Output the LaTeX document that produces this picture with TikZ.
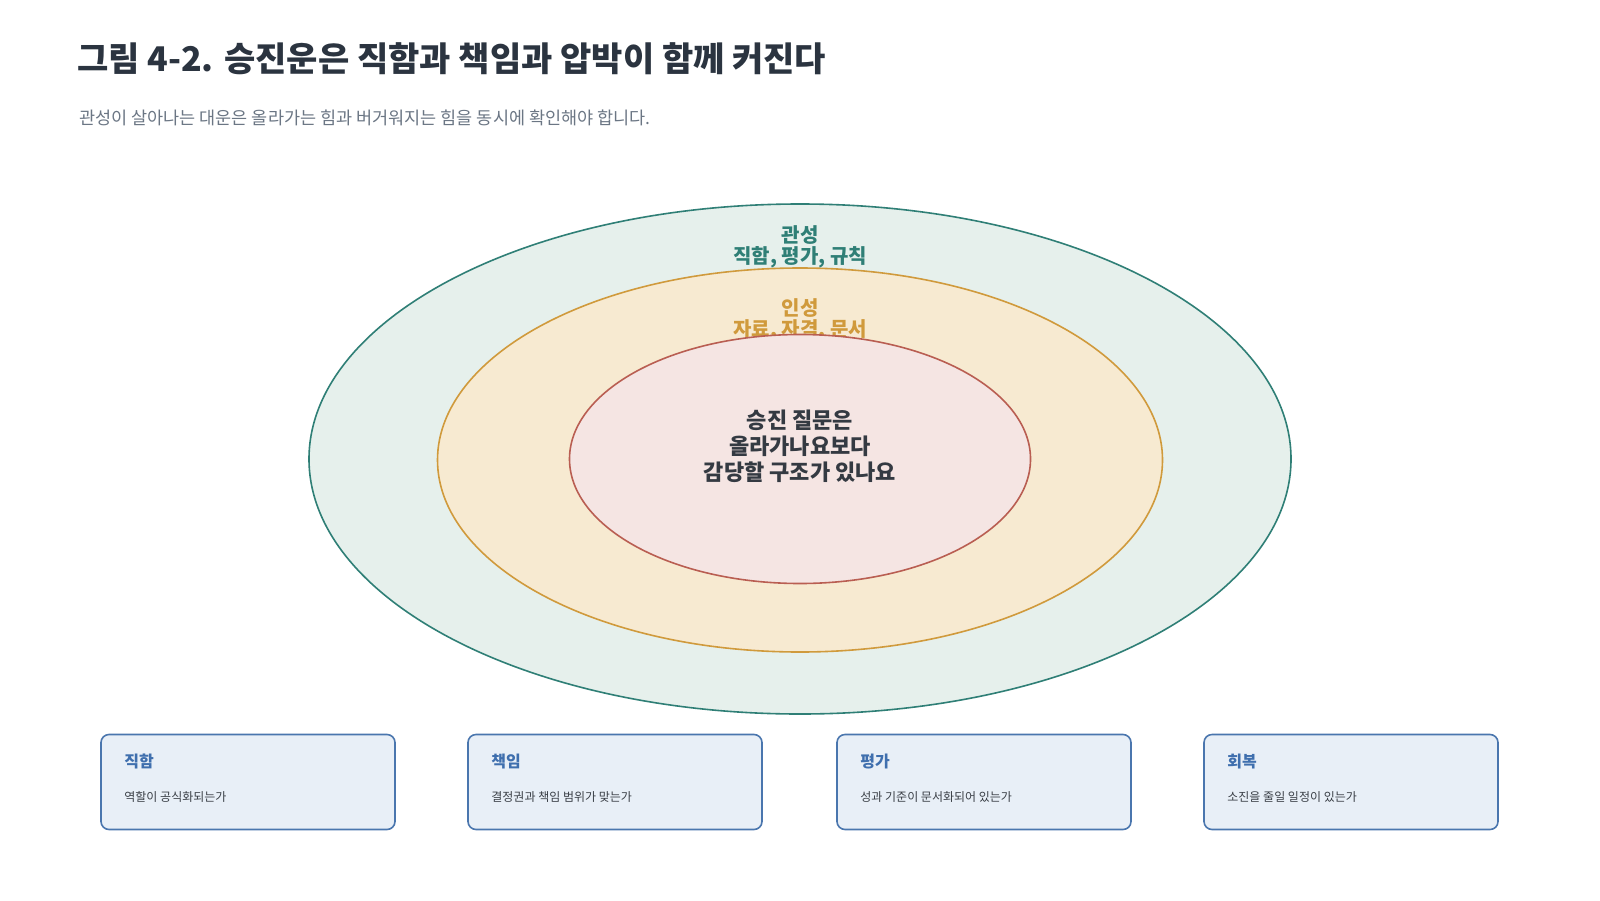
\documentclass[tikz,border=0pt]{standalone}
\usepackage{fontspec}
\setmainfont{Noto Sans CJK KR}
\usetikzlibrary{shapes.geometric}
\definecolor{titlec}{HTML}{2B3440}
\definecolor{subc}{HTML}{6B7684}
\definecolor{outerfill}{HTML}{E6F0EC}
\definecolor{outerdraw}{HTML}{2F7F76}
\definecolor{midfill}{HTML}{F7EAD1}
\definecolor{middraw}{HTML}{D09A3C}
\definecolor{innfill}{HTML}{F5E5E3}
\definecolor{inndraw}{HTML}{B95E52}
\definecolor{boxfill}{HTML}{E8EFF7}
\definecolor{boxdraw}{HTML}{4A76AE}
\definecolor{boxtitle}{HTML}{3F6FAE}
\definecolor{boxtext}{HTML}{3A3F46}
\definecolor{centertext}{HTML}{343A42}
\tikzset{
  ring/.style={ellipse, line width=1.6pt, inner sep=0pt},
  card/.style={draw=boxdraw, fill=boxfill, line width=1.6pt, rounded corners=8pt,
    minimum width=294pt, minimum height=95pt, inner sep=0pt},
  cardtitle/.style={anchor=west, text=boxtitle, font=\fontsize{16}{19}\selectfont\bfseries, inner sep=0pt},
  carddesc/.style={anchor=west, text=boxtext, font=\fontsize{12}{14}\selectfont, inner sep=0pt},
}
\begin{document}
\begin{tikzpicture}[x=1pt,y=-1pt]
\useasboundingbox (0,0) rectangle (1600,900);
\fill[white] (0,0) rectangle (1600,900);

\node[anchor=west, text=titlec, font=\fontsize{34}{38}\selectfont\bfseries, inner sep=0pt] (title) at (77,59) {그림 4-2. 승진운은 직함과 책임과 압박이 함께 커진다};
\node[anchor=west, text=subc, font=\fontsize{17.5}{20}\selectfont, inner sep=0pt] (subtitle) at (79,118) {관성이 살아나는 대운은 올라가는 힘과 버거워지는 힘을 동시에 확인해야 합니다.};

\node[ring, draw=outerdraw, fill=outerfill, minimum width=982pt, minimum height=510pt] (outer) at (800,459) {};
\node[ring, draw=middraw, fill=midfill, minimum width=725pt, minimum height=384pt] (mid) at (800,460) {};

\node[text=outerdraw, font=\fontsize{20}{21}\selectfont\bfseries, align=center, inner sep=0pt] (outerlabel) at (800,247) {관성\\직함, 평가, 규칙};
\node[text=middraw, font=\fontsize{20}{21}\selectfont\bfseries, align=center, inner sep=0pt] (midlabel) at (800,320) {인성\\자료, 자격, 문서};

\node[ring, draw=inndraw, fill=innfill, minimum width=461pt, minimum height=249pt] (inner) at (800,459) {};
\node[text=centertext, font=\fontsize{22}{26}\selectfont\bfseries, align=center, inner sep=0pt] (centerlabel) at (800,446) {승진 질문은\\올라가나요보다\\감당할 구조가 있나요};

\node[card] (c1) at (248,782) {};
\node[card] (c2) at (615,782) {};
\node[card] (c3) at (984,782) {};
\node[card] (c4) at (1351,782) {};

\node[cardtitle] (c1t) at ([xshift=24pt,yshift=-28pt]c1.north west) {직함};
\node[carddesc] (c1d) at ([xshift=24pt,yshift=-63pt]c1.north west) {역할이 공식화되는가};
\node[cardtitle] (c2t) at ([xshift=24pt,yshift=-28pt]c2.north west) {책임};
\node[carddesc] (c2d) at ([xshift=24pt,yshift=-63pt]c2.north west) {결정권과 책임 범위가 맞는가};
\node[cardtitle] (c3t) at ([xshift=24pt,yshift=-28pt]c3.north west) {평가};
\node[carddesc] (c3d) at ([xshift=24pt,yshift=-63pt]c3.north west) {성과 기준이 문서화되어 있는가};
\node[cardtitle] (c4t) at ([xshift=24pt,yshift=-28pt]c4.north west) {회복};
\node[carddesc] (c4d) at ([xshift=24pt,yshift=-63pt]c4.north west) {소진을 줄일 일정이 있는가};
\end{tikzpicture}
\end{document}
